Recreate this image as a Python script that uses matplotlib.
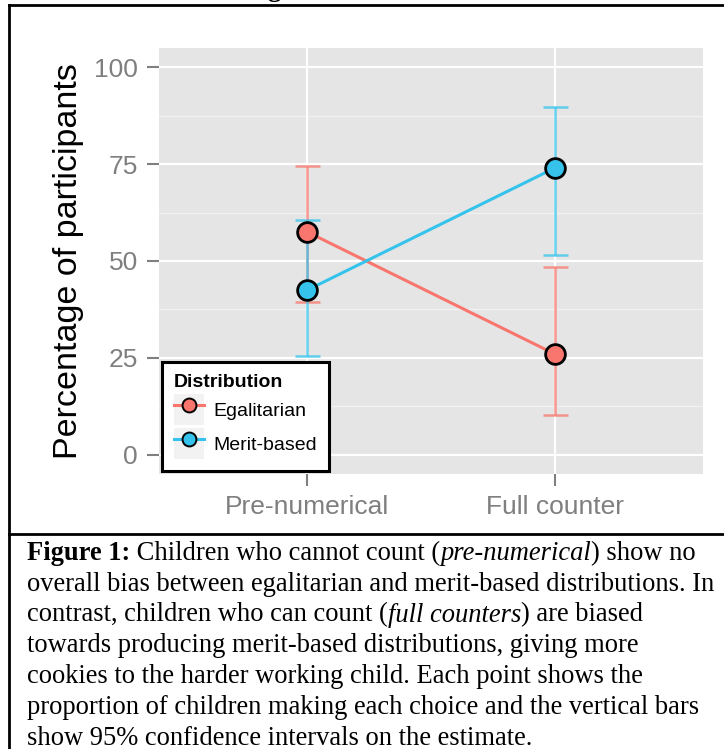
import matplotlib
matplotlib.use("Agg")
import matplotlib.pyplot as plt
from matplotlib.lines import Line2D
from matplotlib.patches import Rectangle
from matplotlib.legend_handler import HandlerLine2D

# ---- data ----
stages = ["Pre-numerical", "Full counter"]
egalitarian = [57.5, 26.0]
egalitarian_lo = [39.5, 10.3]
egalitarian_hi = [74.5, 48.5]
merit = [42.5, 74.0]
merit_lo = [25.5, 51.5]
merit_hi = [60.5, 89.7]
y_ticks = [0, 25, 50, 75, 100]
y_minor = [12.5, 37.5, 62.5, 87.5]

series = [
    ("Egalitarian", egalitarian, egalitarian_lo, egalitarian_hi, "#F8766D"),
    ("Merit-based", merit, merit_lo, merit_hi, "#35C3EC"),
]

W, H = 724, 749
fig = plt.figure(figsize=(W / 100, H / 100), dpi=100)
fig.patch.set_facecolor("white")

SANS = "Liberation Sans"
SERIF = "Liberation Serif"
TICK_GREY = "#7F7F7F"

# panel in pixel coordinates
left, right, top, bottom = 159, 703, 48, 474
ax = fig.add_axes([left / W, 1 - bottom / H, (right - left) / W, (bottom - top) / H])
ax.set_facecolor("#E5E5E5")
for s in ax.spines.values():
    s.set_visible(False)

xpos = list(range(1, len(stages) + 1))
ax.set_xlim(0.4, len(stages) + 0.6)
ax.set_ylim(-5, 105)

# grid
for y in y_minor:
    ax.axhline(y, color="#F2F2F2", lw=0.9, zorder=0.5)
for y in y_ticks:
    ax.axhline(y, color="white", lw=1.6, zorder=0.6)
for x in xpos:
    ax.axvline(x, color="white", lw=1.6, zorder=0.6)

# error bars, lines, points
for name, vals, lo, hi, col in series:
    yerr = [[v - l for v, l in zip(vals, lo)], [h - v for v, h in zip(vals, hi)]]
    ax.errorbar(xpos, vals, yerr=yerr, fmt="none", ecolor=col, elinewidth=1.8,
                capsize=9, capthick=1.8, alpha=0.75, zorder=2)
for name, vals, lo, hi, col in series:
    ax.plot(xpos, vals, color=col, lw=2.2, zorder=3)
for name, vals, lo, hi, col in series:
    ax.plot(xpos, vals, ls="none", marker="o", ms=14.2, mfc=col, mec="black",
            mew=2.0, zorder=4)

ax.set_xticks(xpos)
ax.set_xticklabels(stages)
ax.set_yticks(y_ticks)
ax.set_yticklabels([str(t) for t in y_ticks])
ax.tick_params(axis="both", which="major", length=8.6, width=1.5, color=TICK_GREY,
               labelcolor=TICK_GREY, labelsize=19, pad=6.5)
for lab in ax.get_xticklabels() + ax.get_yticklabels():
    lab.set_family(SANS)

fig.text(69 / W, 1 - 261 / H, "Percentage of participants", rotation=90,
         ha="center", va="center", fontsize=24.5, family=SANS, color="black")


# legend with grey key backgrounds
class KeyHandler(HandlerLine2D):
    def create_artists(self, legend, orig_handle, xdescent, ydescent, width, height,
                       fontsize, trans):
        bg = Rectangle((-xdescent, -ydescent), width, height,
                       facecolor="#F2F2F2", edgecolor="none", transform=trans)
        arts = super().create_artists(legend, orig_handle, xdescent, ydescent,
                                      width, height, fontsize, trans)
        return [bg] + list(arts)


handles = [Line2D([0], [0], color=col, lw=2.2, marker="o", ms=10, mfc=col,
                  mec="black", mew=1.4) for _, _, _, _, col in series]
leg = ax.legend(handles, [s[0] for s in series], title="Distribution",
                loc="lower left", bbox_to_anchor=(0.0055, 0.007), borderaxespad=0,
                prop={"family": SANS, "size": 14}, handlelength=1.55,
                handleheight=2.07, handletextpad=0.45, labelspacing=0.15,
                borderpad=0.62, fancybox=False, framealpha=1,
                handler_map={Line2D: KeyHandler(numpoints=1)})
leg.get_title().set_fontproperties({"family": SANS, "size": 14, "weight": "bold"})
leg._legend_box.align = "left"
leg.get_frame().set_edgecolor("black")
leg.get_frame().set_linewidth(2.2)
leg.set_zorder(10)

# figure frame lines
border_kw = dict(color="black", lw=2.0, transform=fig.transFigure, clip_on=False)
fig.add_artist(Line2D([9 / W, 9 / W], [0, 1 - 5 / H], **border_kw))
fig.add_artist(Line2D([9 / W, 1], [1 - 5 / H, 1 - 5 / H], **border_kw))
fig.add_artist(Line2D([9 / W, 1], [1 - 534 / H, 1 - 534 / H], **border_kw))

# cut-off heading glyph above the frame
fig.text(267 / W, 1 + 3 / H, "g", family=SERIF, weight="bold", fontsize=19,
         ha="left", va="baseline")

# caption with mixed styles
caption = [
    [("Figure 1:", "bold", "normal"), (" Children who cannot count (", "normal", "normal"),
     ("pre-numerical", "normal", "italic"), (") show no", "normal", "normal")],
    [("overall bias between egalitarian and merit-based distributions. In", "normal", "normal")],
    [("contrast, children who can count (", "normal", "normal"),
     ("full counters", "normal", "italic"), (") are biased", "normal", "normal")],
    [("towards producing merit-based distributions, giving more", "normal", "normal")],
    [("cookies to the harder working child. Each point shows the", "normal", "normal")],
    [("proportion of children making each choice and the vertical bars", "normal", "normal")],
    [("show 95% confidence intervals on the estimate.", "normal", "normal")],
]
renderer = fig.canvas.get_renderer()
cap_size = 19.1
base0, step = 560, 30.8
for i, segs in enumerate(caption):
    x = 27
    yb = base0 + i * step
    for txt, wt, st in segs:
        t = fig.text(x / W, 1 - yb / H, txt, family=SERIF, weight=wt, style=st,
                     fontsize=cap_size, ha="left", va="baseline", color="black")
        x += t.get_window_extent(renderer).width

fig.savefig("out.png", dpi=100)
